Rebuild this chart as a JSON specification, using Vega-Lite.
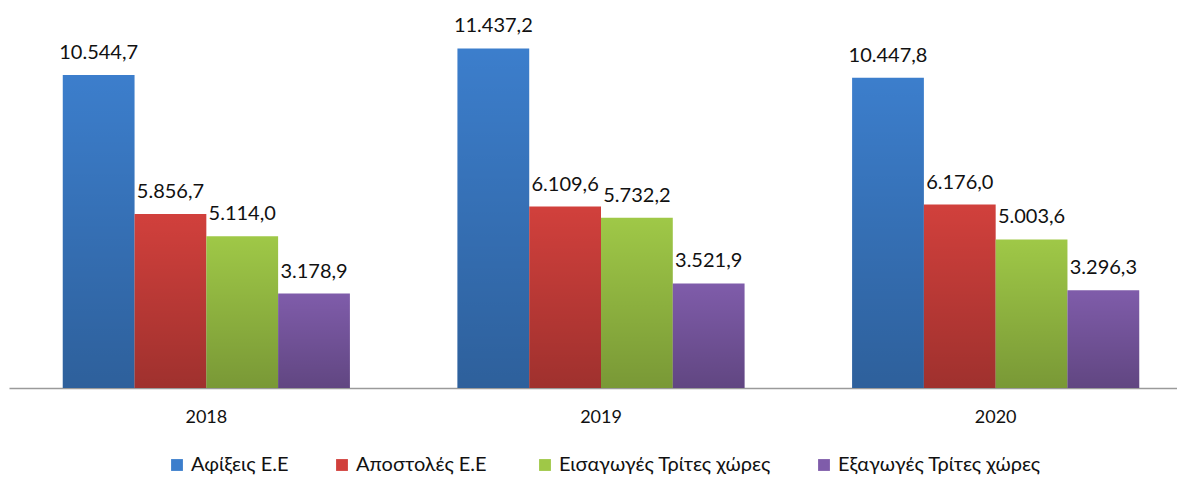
{
  "$schema": "https://vega.github.io/schema/vega-lite/v6.json",
  "width": 1184,
  "height": 386,
  "padding": {"left": 9, "top": 2, "right": 0, "bottom": 0},
  "autosize": {"type": "pad"},
  "background": "white",
  "config": {
    "view": {"stroke": null},
    "locale": {"number": {"decimal": ",", "thousands": ".", "grouping": [3], "currency": ["", "€"]}},
    "font": "Lato"
  },
  "data": {
    "values": [
      {"year": "2018", "series": "Αφίξεις Ε.Ε", "value": 10544.7},
      {"year": "2018", "series": "Αποστολές  Ε.Ε", "value": 5856.7},
      {"year": "2018", "series": "Εισαγωγές Τρίτες χώρες", "value": 5114.0},
      {"year": "2018", "series": "Εξαγωγές Τρίτες χώρες", "value": 3178.9},
      {"year": "2019", "series": "Αφίξεις Ε.Ε", "value": 11437.2},
      {"year": "2019", "series": "Αποστολές  Ε.Ε", "value": 6109.6},
      {"year": "2019", "series": "Εισαγωγές Τρίτες χώρες", "value": 5732.2},
      {"year": "2019", "series": "Εξαγωγές Τρίτες χώρες", "value": 3521.9},
      {"year": "2020", "series": "Αφίξεις Ε.Ε", "value": 10447.8},
      {"year": "2020", "series": "Αποστολές  Ε.Ε", "value": 6176.0},
      {"year": "2020", "series": "Εισαγωγές Τρίτες χώρες", "value": 5003.6},
      {"year": "2020", "series": "Εξαγωγές Τρίτες χώρες", "value": 3296.3}
    ]
  },
  "encoding": {
    "x": {
      "field": "year", "type": "nominal",
      "scale": {"paddingInner": 0, "paddingOuter": 0},
      "axis": {
        "title": null, "labelAngle": 0, "ticks": false, "domainColor": "#9a9a9a", "domainWidth": 1.5,
        "labelFontSize": 18, "labelColor": "#111", "labelPadding": 20, "labelFont": "Lato"
      }
    },
    "xOffset": {
      "field": "series", "type": "nominal",
      "sort": ["Αφίξεις Ε.Ε", "Αποστολές  Ε.Ε", "Εισαγωγές Τρίτες χώρες", "Εξαγωγές Τρίτες χώρες"],
      "scale": {"paddingInner": 0, "paddingOuter": 0.749}
    },
    "y": {
      "field": "value", "type": "quantitative",
      "scale": {"domain": [0, 13000]},
      "axis": null
    }
  },
  "layer": [
    {
      "mark": {"type": "bar"},
      "encoding": {
        "color": {
          "field": "series", "type": "nominal",
          "sort": ["Αφίξεις Ε.Ε", "Αποστολές  Ε.Ε", "Εισαγωγές Τρίτες χώρες", "Εξαγωγές Τρίτες χώρες"],
          "scale": {
            "domain": ["Αφίξεις Ε.Ε", "Αποστολές  Ε.Ε", "Εισαγωγές Τρίτες χώρες", "Εξαγωγές Τρίτες χώρες"],
            "range": ["#3C7ECC", "#D1403C", "#9FC847", "#7F5CAA"]
          },
          "legend": {
            "title": null, "orient": "none", "direction": "horizontal",
            "legendX": 158, "legendY": 453,
            "symbolType": "square", "symbolSize": 140, "symbolStrokeWidth": 0,
            "labelFontSize": 20, "labelFont": "Lato", "labelColor": "#111",
            "columnPadding": 43, "labelOffset": 4, "labelLimit": 400
          }
        }
      }
    },
    {
      "mark": {
        "type": "bar",
        "fill": {
          "gradient": "linear", "x1": 0, "y1": 0, "x2": 0, "y2": 1,
          "stops": [
            {"offset": 0, "color": "rgba(0,0,0,0)"},
            {"offset": 1, "color": "rgba(0,0,0,0.24)"}
          ]
        }
      }
    },
    {
      "mark": {"type": "text", "baseline": "alphabetic", "dy": -16, "fontSize": 20, "font": "Lato", "color": "#111"},
      "encoding": {
        "text": {"field": "value", "type": "quantitative", "format": ",.1f"}
      }
    }
  ]
}
